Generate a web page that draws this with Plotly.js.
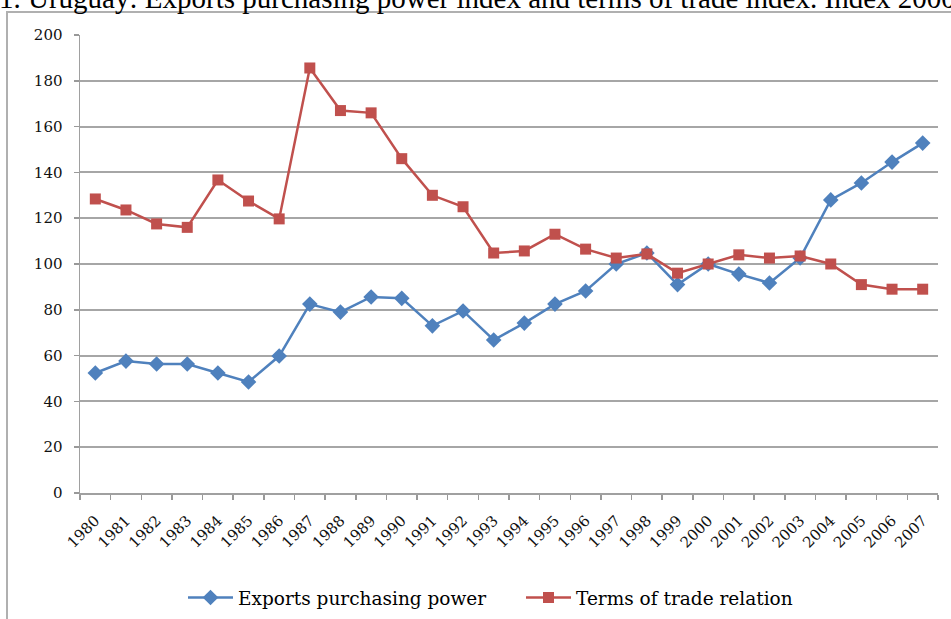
<!DOCTYPE html>
<html>
<head>
<meta charset="utf-8">
<script src="https://cdn.plot.ly/plotly-3.0.1.min.js"></script>
<style>html,body{margin:0;padding:0;background:#fff;}#chart{width:951px;height:619px;}</style>
</head>
<body>
<div id="chart"></div>
<script>
var years = ["1980","1981","1982","1983","1984","1985","1986","1987","1988","1989","1990","1991","1992","1993","1994","1995","1996","1997","1998","1999","2000","2001","2002","2003","2004","2005","2006","2007"];
var exportsPurchasingPower = [52.4,57.6,56.3,56.3,52.4,48.5,59.8,82.5,79,85.6,85,73,79.5,66.8,74.2,82.5,88.2,100,104.8,91,100,95.6,91.7,102.6,128,135.4,144.5,152.8];
var termsOfTrade = [128.4,123.6,117.5,116,136.7,127.5,119.7,185.6,167,166,146,130,125,104.8,105.7,113,106.5,102.6,104.4,96,100,104,102.6,103.5,100,91,89,89];
var yTicks = [0,20,40,60,80,100,120,140,160,180,200];
var titleText = "1. Uruguay: Exports purchasing power index and terms of trade index. Index 2000=100";

var L = 80, R = 13, T = 35, B = 126, W = 951, H = 619;
var pw = W - L - R, ph = H - T - B;
function px(x){ return (x - L) / pw; }
function py(y){ return (H - B - y) / ph; }

var traces = [
  {x: years, y: exportsPurchasingPower, name: "Exports purchasing power", type: "scatter", mode: "lines+markers",
   line: {color: "#4F81BD", width: 2.5}, marker: {symbol: "diamond", size: 12, color: "#4F81BD"}},
  {x: years, y: termsOfTrade, name: "Terms of trade relation", type: "scatter", mode: "lines+markers",
   line: {color: "#C0504D", width: 2.5}, marker: {symbol: "square", size: 11, color: "#C0504D"}}
];

var layout = {
  width: W, height: H,
  margin: {l: L, r: R, t: T, b: B, pad: 0, autoexpand: false},
  paper_bgcolor: "#ffffff", plot_bgcolor: "#ffffff",
  showlegend: true,
  legend: {orientation: "h", x: px(183), xanchor: "left", y: py(598), yanchor: "middle",
           font: {family: "DejaVu Serif", size: 18.5, color: "#000"}, itemwidth: 45,
           entrywidth: 278, entrywidthmode: "pixels", traceorder: "normal"},
  xaxis: {type: "category", range: [-0.5, years.length - 0.5], tickson: "boundaries", ticks: "outside",
          ticklen: 5, tickcolor: "#999",
          tickwidth: 1.5, showline: true, linecolor: "#a0a0a0", linewidth: 2, showgrid: false,
          tickangle: -45, tickfont: {family: "DejaVu Serif", size: 15, color: "#111"}, zeroline: false,
          automargin: false, ticklabelstandoff: 11},
  yaxis: {range: [0, 200], tickvals: yTicks, ticktext: yTicks.map(String), ticks: "outside", ticklen: 5,
          tickcolor: "#999", tickwidth: 1.5, showline: true, linecolor: "#a0a0a0", linewidth: 1.5,
          showgrid: true, gridcolor: "#a6a6a6", gridwidth: 2, zeroline: false, ticklabelstandoff: 8,
          automargin: false, tickfont: {family: "DejaVu Serif", size: 15, color: "#111"}},
  shapes: [
    {type: "rect", xref: "paper", yref: "paper", x0: px(7), x1: px(1000), y0: py(700), y1: py(12),
     line: {color: "#b0b0b0", width: 2}, fillcolor: "rgba(0,0,0,0)", layer: "below"}
  ],
  annotations: [
    {text: titleText, xref: "paper", yref: "paper", x: px(-3), xanchor: "left", y: py(-2), yanchor: "middle",
     showarrow: false, font: {family: "Liberation Serif", size: 29, color: "#000"}}
  ]
};

Plotly.newPlot("chart", traces, layout, {displayModeBar: false, staticPlot: true});
</script>
</body>
</html>
